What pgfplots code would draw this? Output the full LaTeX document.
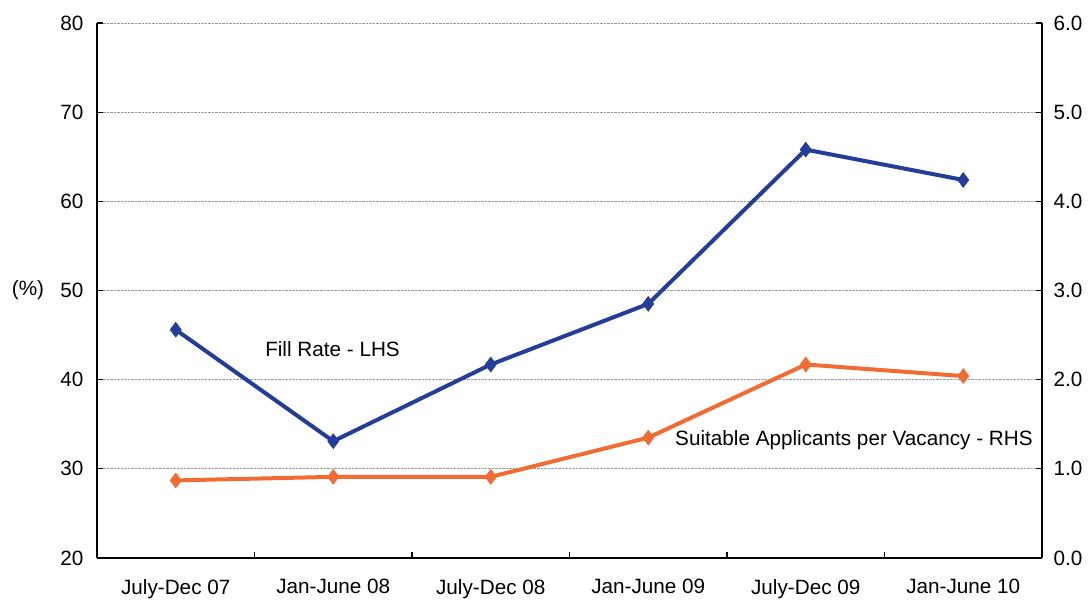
\documentclass[border=0pt]{standalone}
\usepackage{pgfplots}
\pgfplotsset{compat=1.18}
\usepackage{fontspec}
\setmainfont{Liberation Sans}
\definecolor{fillblue}{RGB}{35,61,153}
\definecolor{appor}{RGB}{241,108,50}
\begin{document}
\begin{tikzpicture}[font=\fontsize{20.7}{24}\selectfont]
\pgfplotsset{
  common/.style={
    scale only axis, width=945pt, height=535pt,
    xmin=-0.5, xmax=5.5,
    /pgf/number format/assume math mode=true,
    tick align=inside, major tick length=6pt,
    tick style={black, line width=1.2pt},
    axis line style={black, line width=1.2pt},
    clip=false,
  }
}
\begin{axis}[common,
  ymin=20, ymax=80,
  axis x line*=bottom, axis y line*=left,
  xtick={-0.5,0.5,...,5.5},
  x tick label as interval,
  xticklabels={July-Dec 07, Jan-June 08, July-Dec 08, Jan-June 09, July-Dec 09, Jan-June 10},
  xticklabel style={yshift=-18pt},
  ytick={20,30,...,80},
  yticklabel style={xshift=-10pt},
  ymajorgrids, grid style={gray!80, densely dotted, line width=0.7pt},
]
\addplot[color=fillblue, line width=4pt, mark=diamond*, mark size=7.5pt, mark options={solid, line width=0.5pt}]
  coordinates {(0,45.6) (1,33.1) (2,41.7) (3,48.5) (4,65.8) (5,62.4)};
\node[anchor=west, inner sep=0pt] at (axis cs:0.567,43.45) {Fill Rate - LHS};
\node[anchor=west, inner sep=0pt] at (axis cs:3.17,33.25) {Suitable Applicants per Vacancy - RHS};
\node at (axis cs:-0.5,50) [xshift=-69pt] {(\%)};
\end{axis}
\begin{axis}[common,
  ymin=0, ymax=6,
  axis y line*=right, axis x line=none,
  ytick={0,1,...,6},
  yticklabel style={xshift=8pt, /pgf/number format/.cd, fixed, fixed zerofill, precision=1},
]
\addplot[color=appor, line width=4pt, mark=diamond*, mark size=7.5pt, mark options={solid, line width=0.5pt}]
  coordinates {(0,0.87) (1,0.91) (2,0.91) (3,1.35) (4,2.17) (5,2.04)};
\end{axis}
\useasboundingbox ([xshift=-97pt,yshift=-40pt]current axis.south west) rectangle ([xshift=47pt,yshift=23pt]current axis.north east);
\end{tikzpicture}
\end{document}
